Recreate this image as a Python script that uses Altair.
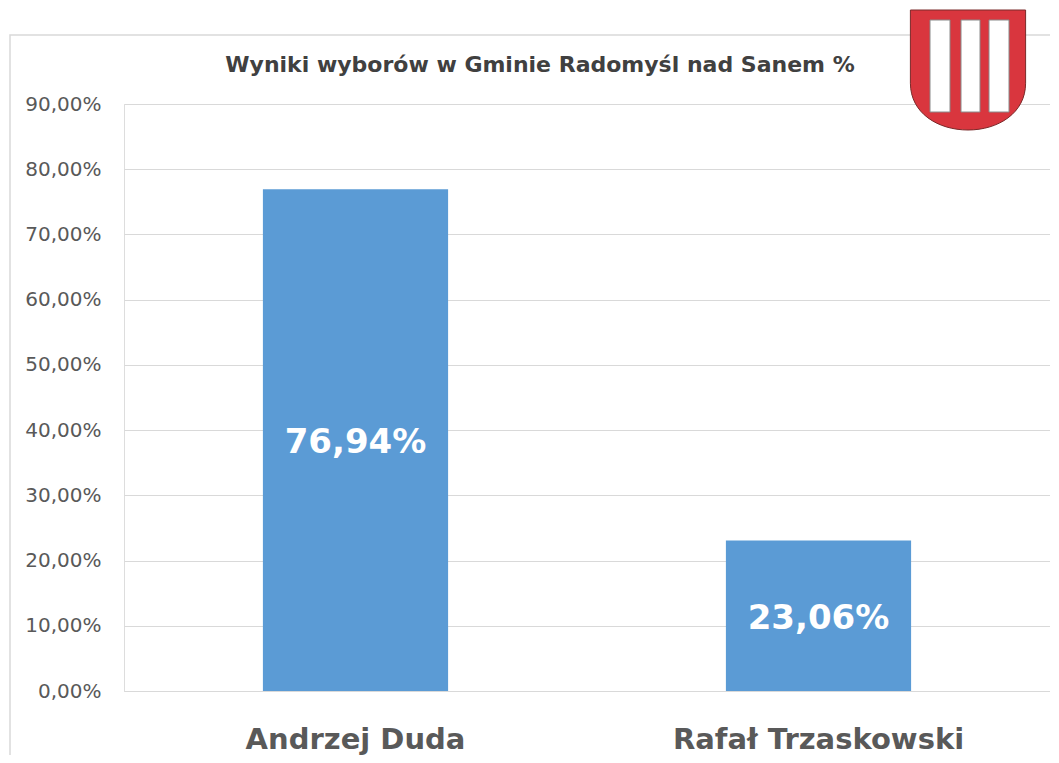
import altair as alt
import pandas as pd

title_text = "Wyniki wyborów w Gminie Radomyśl nad Sanem %"
candidates = ["Andrzej Duda", "Rafał Trzaskowski"]
values = [76.94, 23.06]
labels = ["76,94%", "23,06%"]
y_ticks = [0, 10, 20, 30, 40, 50, 60, 70, 80, 90]

df = pd.DataFrame({"candidate": candidates, "value": values, "label": labels})

FONT = "DejaVu Sans"
W, H = 926, 587

x_enc = alt.X("candidate:N", sort=candidates, title=None,
              scale=alt.Scale(paddingInner=0.6, paddingOuter=0.3),
              axis=alt.Axis(labelAngle=0, labelFontSize=29, labelFontWeight="bold",
                            labelColor="#595959", labelFont=FONT, labelPadding=34,
                            labelLimit=0, ticks=False, domainColor="#d9d9d9", domainWidth=1.2))
y_enc = alt.Y("value:Q", title=None,
              scale=alt.Scale(domain=[0, 90], nice=False),
              axis=alt.Axis(values=y_ticks, labelFontSize=20, labelColor="#595959",
                            labelFont=FONT, labelPadding=23, ticks=False, domain=False,
                            gridColor="#d9d9d9", gridWidth=1.2,
                            labelExpr="replace(format(datum.value, '.2f'), '.', ',') + '%'"))

# outer frame (decorative)
frame = alt.Chart(pd.DataFrame({"f": [1]})).mark_rect(
    fill="transparent", stroke="#d9d9d9", strokeWidth=1.5
).encode(x=alt.value(-114), x2=alt.value(960), y=alt.value(-69), y2=alt.value(700))

bars = alt.Chart(df).mark_bar(color="#5b9bd5").encode(x=x_enc, y=y_enc)

bar_text = alt.Chart(df).transform_calculate(mid="datum.value / 2").mark_text(
    color="white", fontSize=34, fontWeight="bold", font=FONT, baseline="middle", dy=3
).encode(x=alt.X("candidate:N", sort=candidates), y=alt.Y("mid:Q"), text="label:N")

title = alt.Chart(pd.DataFrame({"t": [title_text]})).mark_text(
    fontSize=22, fontWeight="bold", font=FONT, color="#404040", baseline="middle"
).encode(text="t:N", x=alt.value(416), y=alt.value(-39))

# coat of arms (decorative)
shield = alt.Chart(pd.DataFrame({"s": [1]})).mark_point(
    shape="M-0.96,-1 L0.96,-1 L0.96,0.22 C0.96,0.72 0.5,1 0,1 C-0.5,1 -0.96,0.72 -0.96,0.22 Z",
    filled=True, fill="#d9363e", stroke="#7a2a2a", strokeWidth=1, size=14400, opacity=1
).encode(x=alt.value(844), y=alt.value(-34))

stripes_df = pd.DataFrame({"x0": [806, 837, 865], "x1": [826, 856, 885]})
stripes = alt.Chart(stripes_df).mark_rect(
    fill="white", stroke="#8a8a8a", strokeWidth=1
).encode(x=alt.X("x0:Q", scale=None), x2="x1:Q", y=alt.value(-84), y2=alt.value(8))

chart = alt.layer(frame, bars, bar_text, title, shield, stripes).properties(
    width=W, height=H,
    autosize=alt.AutoSizeParams(type="none"),
    padding={"left": 116, "top": 96, "right": 0, "bottom": 64},
).configure_view(stroke=None).configure(background="white")

chart.save("out.html", embed_options={"renderer": "svg", "actions": False})
